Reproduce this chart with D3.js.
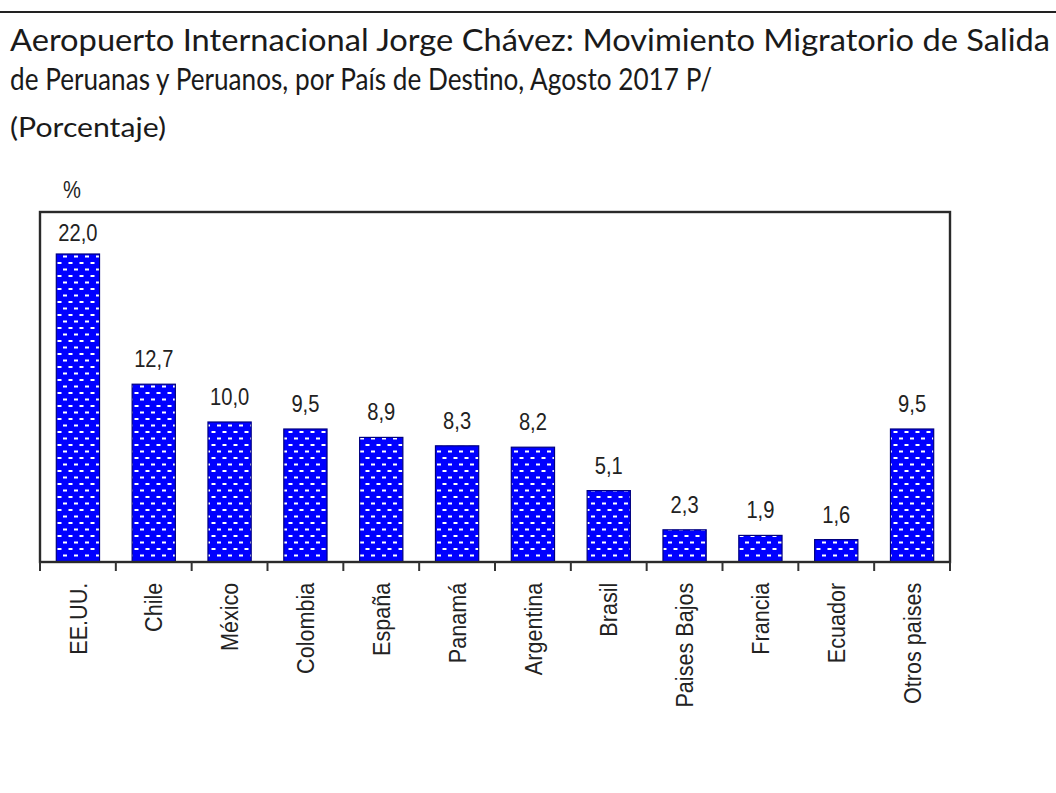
<!DOCTYPE html>
<html>
<head>
    <meta charset="utf-8">
    <title>Movimiento Migratorio de Salida</title>
    <script src="https://cdn.jsdelivr.net/npm/d3@7"></script>
    <style>
        body { margin: 0; background: #fff; }
        .title { font-family: Lato, "Open Sans", sans-serif; fill: #1a1a1a; }
        .narrow { font-family: "Liberation Sans", Arial, sans-serif; fill: #222; }
    </style>
</head>
<body>
<script>
    var paises = ["EE.UU.", "Chile", "México", "Colombia", "España", "Panamá",
                  "Argentina", "Brasil", "Paises Bajos", "Francia", "Ecuador", "Otros paises"];
    var porcentajes = [22.0, 12.7, 10.0, 9.5, 8.9, 8.3, 8.2, 5.1, 2.3, 1.9, 1.6, 9.5];
    var titulo = ["Aeropuerto Internacional Jorge Chávez: Movimiento Migratorio de Salida",
                  "de Peruanas y Peruanos, por País de Destino, Agosto 2017 P/"];
    var subtitulo = "(Porcentaje)";

    var w = 1056, h = 793,
        mLeft = 40, mRight = 950, mTop = 212, mBottom = 562;

    var svg = d3.select("body").append("svg")
        .attr("width", w)
        .attr("height", h);

    // dotted fill used by the bars
    var pat = svg.append("defs").append("pattern")
        .attr("id", "dots")
        .attr("patternUnits", "userSpaceOnUse")
        .attr("width", 11).attr("height", 13);
    pat.append("rect").attr("width", 11).attr("height", 13).attr("fill", "#0000ff");
    pat.append("rect").attr("x", 2.5).attr("y", 2).attr("width", 4).attr("height", 2).attr("fill", "#fff");
    pat.append("rect").attr("x", 8).attr("y", 8.5).attr("width", 4).attr("height", 2).attr("fill", "#fff");
    pat.append("rect").attr("x", -3).attr("y", 8.5).attr("width", 4).attr("height", 2).attr("fill", "#fff");

    // top rule
    svg.append("line")
        .attr("x1", 0).attr("x2", w)
        .attr("y1", 12).attr("y2", 12)
        .attr("stroke", "#222").attr("stroke-width", 2);

    svg.selectAll("text.tl")
        .data(titulo)
        .enter().append("text")
        .attr("class", "title tl")
        .attr("x", 10)
        .attr("y", function (d, i) { return 51 + i * 39; })
        .attr("font-size", 31)
        .attr("textLength", function (d, i) { return i === 0 ? 1040 : 702; })
        .attr("lengthAdjust", "spacingAndGlyphs")
        .text(function (d) { return d; });

    svg.append("text")
        .attr("class", "title")
        .attr("x", 10).attr("y", 137)
        .attr("font-size", 26)
        .attr("textLength", 156)
        .attr("lengthAdjust", "spacingAndGlyphs")
        .text(subtitulo);

    var x = d3.scaleBand()
        .domain(paises)
        .range([mLeft, mRight])
        .paddingInner(0.43)
        .paddingOuter(0.215);

    var y = d3.scaleLinear()
        .domain([0, 25])
        .range([mBottom, mTop]);

    // bars
    svg.selectAll("rect.bar")
        .data(porcentajes)
        .enter().append("rect")
        .attr("class", "bar")
        .attr("x", function (d, i) { return x(paises[i]); })
        .attr("y", function (d) { return y(d); })
        .attr("width", x.bandwidth())
        .attr("height", function (d) { return y(0) - y(d); })
        .attr("fill", "url(#dots)")
        .attr("stroke", "#000080")
        .attr("stroke-width", 1.2);

    // value labels (condensed), kept inside the frame
    svg.selectAll("text.val")
        .data(porcentajes)
        .enter().append("text")
        .attr("class", "narrow val")
        .attr("transform", function (d, i) {
            var ty = Math.max(y(d) - 17, mTop + 29);
            return "translate(" + (x(paises[i]) + x.bandwidth() / 2) + "," + ty + ") scale(0.84,1)";
        })
        .attr("text-anchor", "middle")
        .attr("font-size", 24)
        .text(function (d) { return d3.format(".1f")(d).replace(".", ","); });

    // frame
    svg.append("rect")
        .attr("x", mLeft).attr("y", mTop)
        .attr("width", mRight - mLeft).attr("height", mBottom - mTop)
        .attr("fill", "none")
        .attr("stroke", "#2a2a2a").attr("stroke-width", 2.4);

    // category boundary ticks
    var gap = (x.step() - x.bandwidth()) / 2;
    var bounds = paises.map(function (p) { return x(p) - gap; }).concat([mRight]);
    svg.selectAll("line.tick")
        .data(bounds)
        .enter().append("line")
        .attr("x1", function (d) { return d; }).attr("x2", function (d) { return d; })
        .attr("y1", mBottom).attr("y2", mBottom + 9)
        .attr("stroke", "#333").attr("stroke-width", 2);

    // category labels
    var ax = svg.append("g")
        .attr("transform", "translate(0," + mBottom + ")")
        .call(d3.axisBottom(x).tickSize(0).tickPadding(0));
    ax.select(".domain").remove();
    ax.selectAll("text")
        .attr("class", "narrow")
        .attr("font-size", 24)
        .attr("fill", "#222")
        .attr("transform", "rotate(-90) scale(0.9,1)")
        .attr("text-anchor", "end")
        .attr("x", -23)
        .attr("y", 0)
        .attr("dy", "0.36em");

    svg.append("text")
        .attr("class", "narrow")
        .attr("transform", "translate(72,198) scale(0.84,1)")
        .attr("text-anchor", "middle")
        .attr("font-size", 24)
        .text("%");
</script>
</body>
</html>
